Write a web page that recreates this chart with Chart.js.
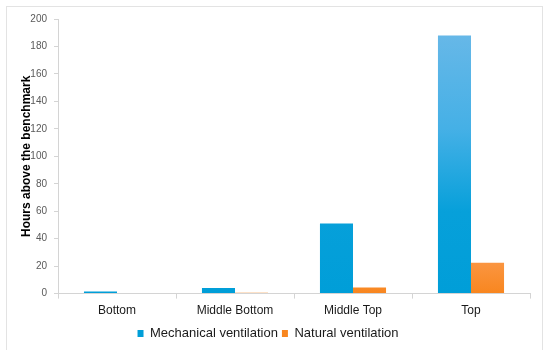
<!DOCTYPE html>
<html>
<head>
<meta charset="utf-8">
<script src="https://cdn.jsdelivr.net/npm/chart.js@4.4.1/dist/chart.umd.min.js"></script>
<style>
    html, body { margin: 0; padding: 0; background: #fff; }
    #wrap { width: 550px; height: 350px; position: relative; }
</style>
</head>
<body>
<div id="wrap"><canvas id="chart" width="550" height="350"></canvas></div>
<script>
var categories = ['Bottom', 'Middle Bottom', 'Middle Top', 'Top'];
var mechanical = [1.5, 4, 51, 188];
var natural = [0, 0.7, 4.5, 22.5];
var seriesNames = ['Mechanical ventilation', 'Natural ventilation'];
var yTicks = [0, 20, 40, 60, 80, 100, 120, 140, 160, 180, 200];

var FONT = 'Arial, "Liberation Sans", sans-serif';

function blueFill(ctx) {
    var c = ctx.chart, a = c.chartArea;
    if (!a) return '#0aa0da';
    var g = c.ctx.createLinearGradient(0, a.top, 0, a.bottom);
    g.addColorStop(0, '#6cb9e8');
    g.addColorStop(0.4, '#45b0e6');
    g.addColorStop(0.7, '#07a0da');
    g.addColorStop(1, '#009ed8');
    return g;
}

function orangeFill(ctx) {
    var c = ctx.chart, a = c.chartArea;
    if (!a) return '#f98b2a';
    var g = c.ctx.createLinearGradient(0, a.top, 0, a.bottom);
    g.addColorStop(0, '#fdb070');
    g.addColorStop(0.85, '#fb9a4c');
    g.addColorStop(1, '#f8861f');
    return g;
}

var framePlugin = {
    id: 'frame',
    beforeDraw: function (chart) {
        var c = chart.ctx;
        c.save();
        c.strokeStyle = '#e3e3e3';
        c.lineWidth = 1;
        c.strokeRect(6.5, 6.5, 536, 360);
        c.restore();
    }
};

new Chart(document.getElementById('chart'), {
    type: 'bar',
    data: {
        labels: categories,
        datasets: [
            {
                label: seriesNames[0],
                data: mechanical,
                backgroundColor: blueFill,
                categoryPercentage: 0.56,
                barPercentage: 1.0
            },
            {
                label: seriesNames[1],
                data: natural,
                backgroundColor: orangeFill,
                categoryPercentage: 0.56,
                barPercentage: 1.0
            }
        ]
    },
    options: {
        responsive: false,
        animation: false,
        layout: { padding: { left: 6, right: 20, top: 19, bottom: 0 } },
        plugins: {
            tooltip: { enabled: false },
            legend: {
                position: 'bottom',
                labels: {
                    font: { family: FONT, size: 13 },
                    color: '#1a1a1a',
                    boxWidth: 6,
                    boxHeight: 7,
                    padding: 4
                }
            }
        },
        scales: {
            x: {
                grid: {
                    offset: true,
                    drawOnChartArea: false,
                    color: '#d4d4d4',
                    tickLength: 5
                },
                border: { color: '#d4d4d4' },
                ticks: {
                    font: { family: FONT, size: 12 },
                    color: '#1a1a1a',
                    padding: 5
                }
            },
            y: {
                min: 0,
                max: 200,
                afterBuildTicks: function (scale) {
                    scale.ticks = yTicks.map(function (v) { return { value: v }; });
                },
                afterFit: function (scale) { scale.width = 52; },
                grid: {
                    drawOnChartArea: false,
                    color: '#d4d4d4',
                    tickLength: 4
                },
                border: { color: '#d4d4d4' },
                ticks: {
                    font: { family: FONT, size: 10 },
                    color: '#595959',
                    padding: 7
                },
                title: {
                    display: true,
                    text: 'Hours above the benchmark',
                    font: { family: FONT, size: 12, weight: 'bold' },
                    color: '#000',
                    padding: { top: 13, bottom: 0 }
                }
            }
        }
    },
    plugins: [framePlugin]
});
</script>
</body>
</html>
